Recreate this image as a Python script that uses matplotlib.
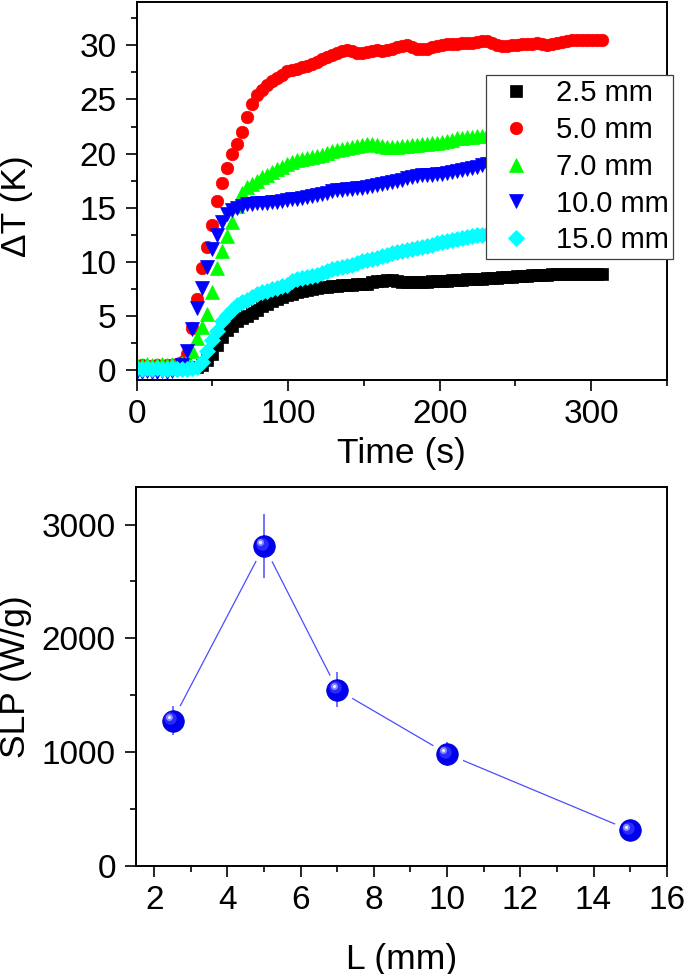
import numpy as np
import matplotlib
matplotlib.use('Agg')
import matplotlib.pyplot as plt
from matplotlib import transforms
from matplotlib.ticker import MultipleLocator

plt.rcParams['font.family'] = ['Liberation Sans', 'DejaVu Sans']

# ---- top panel: heating curves, sampled every 3.3 s ----
dt = 3.3
t = np.arange(94) * dt

dT_25 = [0.2, 0.3, 0.2, 0.2, 0.3, 0.2, 0.2, 0.3, 0.2, 0.2,
         0.2, 0.3, 0.3, 0.5, 0.9, 1.5, 2.3, 3.1, 3.7, 4.1,
         4.5, 4.8, 5.0, 5.3, 5.6, 5.9, 6.1, 6.4, 6.6, 6.8,
         6.9, 7.0, 7.2, 7.3, 7.4, 7.5, 7.6, 7.7, 7.7, 7.8,
         7.8, 7.9, 7.9, 7.9, 8.0, 8.0, 8.0, 8.1, 8.2, 8.2,
         8.3, 8.3, 8.2, 8.1, 8.1, 8.1, 8.1, 8.1, 8.1, 8.2,
         8.2, 8.2, 8.2, 8.3, 8.3, 8.3, 8.4, 8.4, 8.4, 8.4,
         8.5, 8.5, 8.5, 8.6, 8.6, 8.6, 8.7, 8.7, 8.7, 8.8,
         8.8, 8.8, 8.8, 8.9, 8.9, 8.9, 8.9, 8.9, 8.9, 8.9,
         8.9, 8.9, 8.9, 8.9]
dT_50 = [0.4, 0.5, 0.4, 0.4, 0.5, 0.4, 0.5, 0.5, 0.6, 0.8,
         1.5, 3.9, 6.6, 9.4, 11.4, 13.4, 15.6, 17.3, 18.7, 20.0,
         20.9, 22.0, 23.4, 24.6, 25.4, 25.9, 26.3, 26.7, 27.0, 27.3,
         27.6, 27.7, 27.8, 28.0, 28.1, 28.3, 28.5, 28.7, 28.9, 29.1,
         29.3, 29.5, 29.6, 29.5, 29.3, 29.3, 29.4, 29.5, 29.6, 29.5,
         29.6, 29.7, 29.8, 29.9, 30.0, 29.8, 29.7, 29.7, 29.7, 29.8,
         29.9, 30.0, 30.1, 30.1, 30.1, 30.2, 30.2, 30.2, 30.3, 30.4,
         30.4, 30.2, 30.0, 29.9, 29.9, 30.0, 30.0, 30.1, 30.1, 30.1,
         30.2, 30.1, 30.0, 30.1, 30.2, 30.3, 30.4, 30.5, 30.5, 30.5,
         30.5, 30.5, 30.5, 30.5]
dT_70 = [0.5, 0.5, 0.6, 0.5, 0.5, 0.6, 0.5, 0.6, 0.6, 0.7,
         0.9, 1.8, 3.0, 4.0, 5.2, 7.2, 9.4, 11.0, 12.4, 13.7,
         15.2, 16.4, 16.9, 17.2, 17.5, 17.8, 18.0, 18.3, 18.6, 18.8,
         19.0, 19.2, 19.4, 19.5, 19.6, 19.7, 19.8, 19.9, 20.1, 20.2,
         20.3, 20.4, 20.5, 20.6, 20.7, 20.8, 20.9, 20.9, 20.8, 20.7,
         20.6, 20.6, 20.6, 20.7, 20.7, 20.8, 20.8, 20.9, 20.9, 21.0,
         21.0, 21.1, 21.2, 21.3, 21.4, 21.4, 21.5, 21.5, 21.6, 21.6,
         21.7, 21.7, 21.8, 21.8, 21.9, 21.9, 22.0, 22.0, 22.0, 22.1,
         22.1, 22.1, 22.2, 22.2, 22.2, 22.3, 22.3, 22.3, 22.4, 22.4,
         22.4, 22.5, 22.5, 22.5]
dT_100 = [-0.2, -0.2, -0.1, -0.2, -0.2, -0.1, -0.2, -0.1, 0.0, 0.5,
          1.8, 3.8, 5.7, 7.6, 9.5, 11.2, 12.5, 13.7, 14.4, 14.8,
          15.0, 15.2, 15.3, 15.3, 15.4, 15.4, 15.4, 15.5, 15.5, 15.6,
          15.7, 15.8, 15.8, 15.9, 16.0, 16.1, 16.2, 16.3, 16.4, 16.5,
          16.6, 16.6, 16.7, 16.7, 16.8, 16.8, 16.9, 17.0, 17.1, 17.2,
          17.3, 17.4, 17.5, 17.6, 17.7, 17.8, 17.9, 18.0, 18.0, 18.0,
          18.1, 18.1, 18.2, 18.3, 18.4, 18.5, 18.6, 18.7, 18.8, 18.9,
          19.0, 19.0, 19.1, 19.1, 19.2, 19.2, 19.3, 19.3, 19.4, 19.4,
          19.5, 19.5, 19.5, 19.6, 19.6, 19.6, 19.7, 19.7, 19.7, 19.8,
          19.8, 19.8, 19.9, 19.9]
dT_150 = [0.2, 0.1, 0.2, 0.1, 0.2, 0.1, 0.1, 0.2, 0.1, 0.1,
          0.1, 0.2, 0.3, 0.8, 1.8, 2.8, 3.6, 4.5, 5.1, 5.6,
          6.0, 6.3, 6.5, 6.8, 7.0, 7.2, 7.3, 7.5, 7.6, 7.8,
          7.9, 8.2, 8.4, 8.5, 8.6, 8.7, 8.8, 9.0, 9.2, 9.3,
          9.4, 9.5, 9.6, 9.7, 9.9, 10.1, 10.2, 10.3, 10.4, 10.5,
          10.6, 10.8, 10.9, 11.0, 11.1, 11.2, 11.3, 11.4, 11.5, 11.6,
          11.7, 11.8, 11.9, 12.0, 12.1, 12.2, 12.3, 12.4, 12.5, 12.5,
          12.6, 12.7, 12.7, 12.8, 12.8, 12.9, 12.9, 13.0, 13.0, 13.1,
          13.1, 13.2, 13.2, 13.2, 13.3, 13.3, 13.3, 13.4, 13.4, 13.4,
          13.5, 13.5, 13.5, 13.5]

labels = ['2.5 mm', '5.0 mm', '7.0 mm', '10.0 mm', '15.0 mm']

# ---- bottom panel: SLP vs length ----
L_mm = [2.5, 5.0, 7.0, 10.0, 15.0]
slp = [1278, 2813, 1550, 986, 313]
slp_err = [130, 280, 155, 105, 60]

fig = plt.figure(figsize=(6.85, 9.74), dpi=100)
ax1 = fig.add_axes([0.1996, 0.6099, 0.7741, 0.3881])
ax2 = fig.add_axes([0.1985, 0.1109, 0.7748, 0.3891])

styles = [('#000000', 's', 8.0), ('#FF0000', 'o', 9.0), ('#00FF00', '^', 10.5),
          ('#0000FF', 'v', 10.5), ('#00FFFF', 'D', 8.5)]
for y, (c, m, ms), lab in zip([dT_25, dT_50, dT_70, dT_100, dT_150], styles, labels):
    ax1.plot(t, y, ls='none', marker=m, ms=ms, color=c, mec=c, mew=0.5, label=lab)

ax1.set_xlim(0, 350)
ax1.set_ylim(-0.9, 34)
ax1.xaxis.set_major_locator(MultipleLocator(100))
ax1.xaxis.set_minor_locator(MultipleLocator(50))
ax1.yaxis.set_major_locator(MultipleLocator(5))
ax1.yaxis.set_minor_locator(MultipleLocator(2.5))
ax1.set_xlabel('Time (s)', fontsize=25.5)
ax1.set_ylabel('ΔT (K)', fontsize=25.5)
ax1.xaxis.set_label_coords(0.5, -0.152)
ax1.yaxis.set_label_coords(-0.196, 0.46)

leg = ax1.legend(loc='upper right', bbox_to_anchor=(1.011, 0.807), borderaxespad=0,
                 fontsize=21, numpoints=1, handlelength=1.8, handletextpad=0.45,
                 borderpad=0.15, labelspacing=0.3, fancybox=False, framealpha=1)
leg.get_frame().set_edgecolor('0.25')
leg.get_frame().set_linewidth(0.9)

# line with gaps around the balls, error bars, then shaded balls
line_c = '#4B4BFF'
ax2.plot(L_mm, slp, color=line_c, lw=0.9, zorder=1)
ax2.plot(L_mm, slp, ls='none', marker='o', ms=24, color='white', mew=0, zorder=2)
ax2.errorbar(L_mm, slp, yerr=slp_err, fmt='none', ecolor=line_c, elinewidth=1.1,
             capsize=0, zorder=3)
ax2.plot(L_mm, slp, ls='none', marker='o', ms=15.5, color='#0000F0', mec='#0000C8',
         mew=0.6, zorder=4)
shift = transforms.offset_copy(ax2.transData, fig=fig, x=-1.6, y=1.6, units='points')
ax2.plot(L_mm, slp, ls='none', marker='o', ms=9, color='#2A2AFF', mew=0,
         transform=shift, zorder=5)
shift2 = transforms.offset_copy(ax2.transData, fig=fig, x=-2.6, y=2.6, units='points')
ax2.plot(L_mm, slp, ls='none', marker='o', ms=5, color='#8C8CFF', mew=0,
         transform=shift2, zorder=6)
ax2.plot(L_mm, slp, ls='none', marker='o', ms=2.2, color='#EEEEFF', mew=0,
         transform=shift2, zorder=7)

ax2.set_xlim(1.5, 16)
ax2.set_ylim(0, 3330)
ax2.xaxis.set_major_locator(MultipleLocator(2))
ax2.xaxis.set_minor_locator(MultipleLocator(1))
ax2.yaxis.set_major_locator(MultipleLocator(1000))
ax2.yaxis.set_minor_locator(MultipleLocator(500))
ax2.set_xlabel('L (mm)', fontsize=25.5)
ax2.set_ylabel('SLP (W/g)', fontsize=25.5)
ax2.xaxis.set_label_coords(0.5, -0.203)
ax2.yaxis.set_label_coords(-0.196, 0.5)

for ax in (ax1, ax2):
    for s in ax.spines.values():
        s.set_linewidth(1.4)
    ax.tick_params(which='both', direction='out', top=False, right=False, width=1.2)
    ax.tick_params(which='major', length=8, labelsize=24)
    ax.tick_params(which='minor', length=4)
    ax.tick_params(axis='x', pad=6)
    ax.tick_params(axis='y', pad=6.5)

fig.savefig('out.png', dpi=100)
